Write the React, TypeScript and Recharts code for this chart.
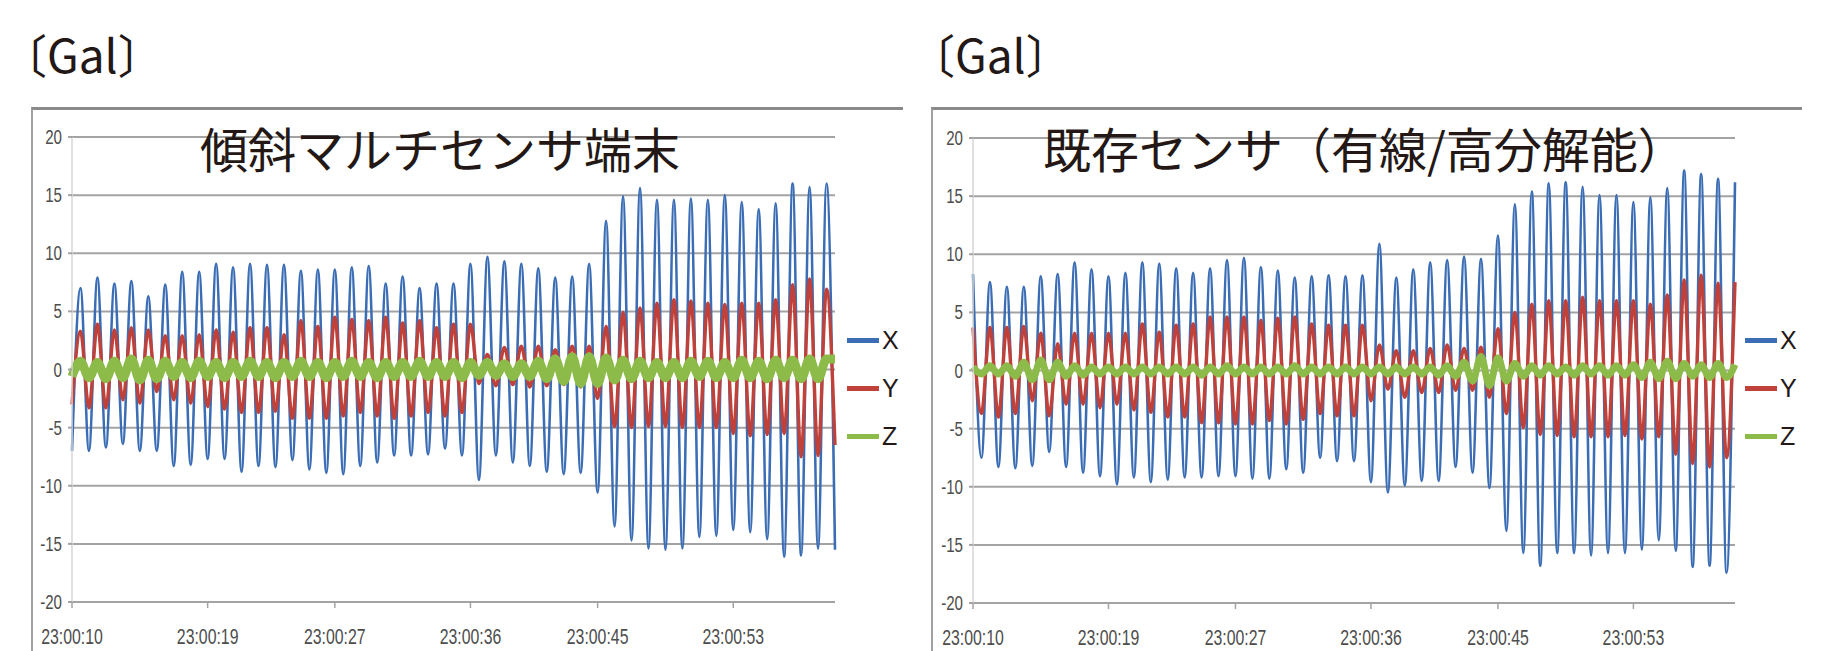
import React from 'react';
import { LineChart, Line, XAxis, YAxis, CartesianGrid, Legend } from 'recharts';

// Time axis: labels shown under the plot and the sample rows they sit on
const timeLabels = ['23:00:10', '23:00:19', '23:00:27', '23:00:36', '23:00:45', '23:00:53'];
const tickRows = [0, 16, 31, 47, 62, 78];
const yTicks = [-20, -15, -10, -5, 0, 5, 10, 15, 20];

// 傾斜マルチセンサ端末 — one row per half swing, starting on a trough
const tiltXTroughs = [
  -7.0, -7.0, -6.7, -6.4, -7.0, -7.0, -8.3, -8.2, -7.7, -7.7,
  -8.8, -8.3, -8.4, -7.8, -8.6, -8.9, -9.0, -8.3, -8.0, -7.4,
  -7.4, -7.3, -6.8, -7.4, -9.5, -7.4, -8.0, -8.3, -8.8, -9.0,
  -8.9, -10.6, -13.5, -14.7, -15.4, -15.5, -15.4, -14.4, -14.3, -13.8,
  -14.0, -14.6, -16.1, -16.0, -15.4, -15.5,
];
const tiltXPeaks = [
  7.0, 7.9, 7.4, 7.6, 6.3, 7.3, 8.4, 8.4, 9.1, 8.8,
  9.1, 9.0, 9.0, 8.5, 8.6, 8.6, 8.8, 8.9, 7.4, 8.0,
  7.0, 7.4, 7.4, 9.1, 9.7, 9.3, 9.1, 8.7, 7.9, 8.0,
  9.1, 12.8, 14.9, 15.6, 14.6, 14.6, 14.7, 14.6, 15.0, 14.4,
  13.8, 14.3, 16.0, 15.7, 16.0,
];
const tiltYTroughs = [
  -3.0, -3.3, -3.3, -2.6, -2.9, -1.9, -2.6, -2.9, -3.2, -3.4,
  -3.7, -3.7, -3.6, -4.2, -4.2, -4.2, -4.0, -3.7, -4.0, -4.2,
  -4.0, -3.7, -4.0, -3.7, -1.2, -1.4, -1.3, -1.5, -1.4, -1.3,
  -1.5, -2.5, -4.9, -5.0, -4.9, -4.9, -5.0, -5.0, -5.0, -5.5,
  -5.7, -5.6, -5.5, -7.5, -7.4, -6.5,
];
const tiltYPeaks = [
  3.3, 3.9, 3.4, 3.6, 3.4, 2.9, 2.9, 3.0, 3.4, 3.2,
  3.6, 3.6, 3.0, 4.2, 3.7, 4.5, 4.3, 4.2, 4.5, 4.0,
  4.2, 3.6, 3.9, 3.9, 1.3, 1.9, 2.0, 2.0, 1.7, 2.0,
  2.0, 3.7, 4.9, 5.3, 5.7, 6.0, 5.9, 5.7, 5.6, 5.7,
  5.7, 6.0, 7.3, 7.8, 6.9,
];
const tiltZ = [
  -0.6, 0.7, -0.7, 0.6, -0.8, 0.7, -0.7, 0.9, -0.9, 0.8,
  -0.8, 0.7, -0.6, 0.6, -0.7, 0.7, -0.6, 0.6, -0.7, 0.6,
  -0.6, 0.7, -0.6, 0.6, -0.7, 0.6, -0.6, 0.7, -0.6, 0.6,
  -0.7, 0.6, -0.6, 0.7, -0.6, 0.6, -0.7, 0.6, -0.6, 0.6,
  -0.6, 0.7, -0.6, 0.6, -0.6, 0.6, -0.7, 0.6, -0.5, 0.6,
  -0.5, 0.5, -0.6, 0.5, -0.6, 0.7, -0.8, 0.9, -1.0, 1.1,
  -1.2, 1.1, -1.2, 1.0, -0.9, 0.8, -0.8, 0.7, -0.7, 0.6,
  -0.7, 0.6, -0.7, 0.7, -0.6, 0.7, -0.7, 0.6, -0.7, 0.8,
  -0.7, 0.7, -0.8, 0.8, -0.7, 0.8, -0.8, 0.9, -0.8, 0.9, 0.9,
];

// 既存センサ（有線/高分解能） — one row per half swing, starting on a peak
const wiredXPeaks = [
  8.3, 7.6, 7.2, 7.2, 8.1, 8.3, 9.3, 8.7, 8.1, 8.4,
  9.3, 9.2, 8.8, 8.4, 8.8, 9.5, 9.7, 8.9, 8.6, 8.0,
  8.1, 8.2, 8.1, 8.2, 10.9, 8.0, 8.7, 9.3, 9.5, 9.8,
  9.6, 11.6, 14.3, 15.4, 16.1, 16.2, 15.8, 15.1, 15.1, 14.5,
  14.9, 15.7, 17.2, 16.9, 16.5, 16.2,
];
const wiredXTroughs = [
  -7.5, -8.3, -8.4, -8.2, -7.0, -8.3, -8.8, -9.1, -9.8, -9.2,
  -9.6, -9.4, -9.2, -9.2, -9.1, -9.1, -9.3, -9.3, -8.5, -8.8,
  -7.5, -7.8, -7.8, -9.6, -10.5, -9.9, -9.5, -9.5, -8.3, -8.8,
  -10.1, -13.8, -15.7, -16.8, -15.7, -15.7, -15.9, -15.7, -15.7, -15.4,
  -14.6, -15.5, -16.9, -16.8, -17.4,
];
const wiredYPeaks = [
  3.7, 3.7, 3.7, 3.8, 3.2, 2.3, 3.2, 3.2, 3.2, 3.2,
  4.0, 3.3, 3.9, 4.0, 4.6, 4.6, 4.6, 4.3, 4.5, 4.6,
  4.0, 3.9, 3.9, 3.9, 2.2, 1.7, 1.7, 1.9, 2.2, 1.9,
  2.0, 3.6, 5.0, 5.7, 6.0, 6.0, 6.3, 6.0, 6.0, 6.0,
  5.7, 6.5, 7.8, 8.2, 7.5, 7.6,
];
const wiredYTroughs = [
  -3.7, -4.0, -3.7, -2.6, -3.9, -2.9, -2.9, -3.2, -2.9, -3.4,
  -3.6, -4.0, -4.0, -4.5, -4.5, -4.6, -4.6, -4.3, -4.6, -4.2,
  -3.7, -3.9, -3.9, -2.6, -1.6, -2.3, -1.9, -1.9, -1.7, -1.7,
  -2.3, -3.7, -4.9, -5.5, -5.6, -5.7, -5.7, -5.7, -5.6, -5.9,
  -5.7, -7.2, -8.0, -8.3, -7.5,
];
const wiredZ = [
  0.3, -0.3, 0.4, -0.3, 0.4, -0.5, 0.7, -0.8, 0.9, -0.8,
  0.7, -0.5, 0.4, -0.4, 0.3, -0.3, 0.3, -0.3, 0.3, -0.3,
  0.3, -0.3, 0.3, -0.3, 0.3, -0.3, 0.3, -0.4, 0.3, -0.3,
  0.4, -0.3, 0.3, -0.3, 0.3, -0.3, 0.3, -0.3, 0.4, -0.3,
  0.3, -0.3, 0.3, -0.3, 0.3, -0.3, 0.3, -0.3, 0.3, -0.3,
  0.3, -0.3, 0.3, -0.3, 0.3, -0.4, 0.4, -0.5, 0.7, -0.9,
  1.2, -1.3, 1.1, -0.9, 0.6, -0.5, 0.4, -0.4, 0.4, -0.3,
  0.3, -0.4, 0.4, -0.3, 0.4, -0.4, 0.4, -0.4, 0.5, -0.6,
  0.7, -0.7, 0.8, -0.7, 0.6, -0.5, 0.5, -0.6, 0.6, -0.6, 0.5,
];

const COLORS = { x: '#3b6db5', y: '#c0403a', z: '#8dbb4a' };
const GRID = '#a3a3a3';

// even rows take the first list, odd rows the second
function buildRows(evenX: number[], oddX: number[], evenY: number[], oddY: number[], z: number[]) {
  return z.map((zv, i) => {
    const k = i >> 1;
    const even = i % 2 === 0;
    return { t: i, x: even ? evenX[k] : oddX[k], y: even ? evenY[k] : oddY[k], z: zv };
  });
}

const tiltRows = buildRows(tiltXTroughs, tiltXPeaks, tiltYTroughs, tiltYPeaks, tiltZ);
const wiredRows = buildRows(wiredXPeaks, wiredXTroughs, wiredYPeaks, wiredYTroughs, wiredZ);

const tickFont = '"Liberation Sans", Arial, sans-serif';

const TimeTick = (props: any) => {
  const { x, y, payload } = props;
  const label = timeLabels[tickRows.indexOf(payload.value)];
  return (
    <g transform={`translate(${x},${y})`}>
      <text transform="scale(0.72,1)" textAnchor="middle" dy={36} fontSize={22} fill="#4d4d4d" fontFamily={tickFont}>
        {label}
      </text>
    </g>
  );
};

const ValueTick = (props: any) => {
  const { x, y, payload } = props;
  return (
    <g transform={`translate(${x},${y})`}>
      <text transform="scale(0.72,1)" textAnchor="end" dy={7} fontSize={21} fill="#4d4d4d" fontFamily={tickFont}>
        {payload.value}
      </text>
    </g>
  );
};

const renderLegend = ({ payload }: any) => (
  <div>
    {(payload || []).map((entry: any) => (
      <div key={entry.value} style={{ display: 'flex', alignItems: 'center', height: 48 }}>
        <span style={{ width: 32, height: 5, background: entry.color, marginRight: 3 }} />
        <span style={{ fontSize: 25, lineHeight: 1, color: '#231815', fontFamily: tickFont }}>{entry.value}</span>
      </div>
    ))}
  </div>
);

type PanelProps = {
  rows: { t: number; x: number; y: number; z: number }[];
  width: number;
  marginTop: number;
  marginRight: number;
  axisWidth: number;
  axisHeight: number;
  legendLeft: number;
  zWidth: number;
};

const SensorPanel = ({ rows, width, marginTop, marginRight, axisWidth, axisHeight, legendLeft, zWidth }: PanelProps) => (
  <LineChart width={width} height={651} data={rows} margin={{ top: marginTop, right: marginRight, bottom: 0, left: 0 }}>
    <CartesianGrid vertical={false} stroke={GRID} strokeWidth={2} />
    <XAxis
      dataKey="t"
      type="category"
      ticks={tickRows}
      interval={0}
      height={axisHeight}
      tick={<TimeTick />}
      tickSize={6}
      tickMargin={0}
      tickLine={{ stroke: GRID, strokeWidth: 1.5 }}
      axisLine={{ stroke: GRID, strokeWidth: 2 }}
    />
    <YAxis
      domain={[-20, 20]}
      ticks={yTicks}
      width={axisWidth}
      tick={<ValueTick />}
      tickSize={4}
      tickMargin={6}
      tickLine={{ stroke: GRID, strokeWidth: 2 }}
      axisLine={{ stroke: '#d6d6d6', strokeWidth: 1.5 }}
      allowDataOverflow
    />
    <Legend
      layout="horizontal"
      align="center"
      verticalAlign="middle"
      content={renderLegend}
      wrapperStyle={{ left: legendLeft, top: 316, width: 70 }}
    />
    <Line type="monotone" dataKey="x" name="X" stroke={COLORS.x} strokeWidth={2.6} dot={false} isAnimationActive={false} />
    <Line type="monotone" dataKey="y" name="Y" stroke={COLORS.y} strokeWidth={3.4} dot={false} isAnimationActive={false} />
    <Line type="monotone" dataKey="z" name="Z" stroke={COLORS.z} strokeWidth={zWidth} strokeLinejoin="round" dot={false} isAnimationActive={false} />
  </LineChart>
);

const frameStyle: React.CSSProperties = {
  position: 'absolute',
  top: 107,
  height: 544,
  borderTop: '3px solid #8a8a8a',
  borderLeft: '2px solid #a0a0a0',
  boxSizing: 'border-box',
};

const cjkFont = '"Noto Sans CJK JP", "Noto Sans CJK SC", sans-serif';

export default function App() {
  return (
    <div style={{ position: 'absolute', left: 0, top: 0, width: 1843, height: 651, background: '#fff', overflow: 'hidden' }}>
      <div style={{ ...frameStyle, left: 31, width: 872 }} />
      <div style={{ ...frameStyle, left: 931, width: 871 }} />

      <div style={{ position: 'absolute', left: 0, top: 0 }}>
        <SensorPanel rows={tiltRows} width={903} marginTop={137} marginRight={68} axisWidth={72} axisHeight={49} legendLeft={847} zWidth={9} />
      </div>
      <div style={{ position: 'absolute', left: 903, top: 0 }}>
        <SensorPanel rows={wiredRows} width={940} marginTop={138} marginRight={108} axisWidth={70} axisHeight={48} legendLeft={842} zWidth={7} />
      </div>

      <svg width={1843} height={651} style={{ position: 'absolute', left: 0, top: 0, pointerEvents: 'none' }}>
        <text x={1} y={73} fontSize={46} fill="#231815" fontFamily={cjkFont}>〔Gal〕</text>
        <text x={909} y={73} fontSize={46} fill="#231815" fontFamily={cjkFont}>〔Gal〕</text>
        <text x={200} y={168} fontSize={48} fill="#231815" fontFamily={cjkFont}>傾斜マルチセンサ端末</text>
        <text x={1043} y={168} fontSize={48} fill="#231815" fontFamily={cjkFont}>既存センサ（有線/高分解能）</text>
      </svg>
    </div>
  );
}
